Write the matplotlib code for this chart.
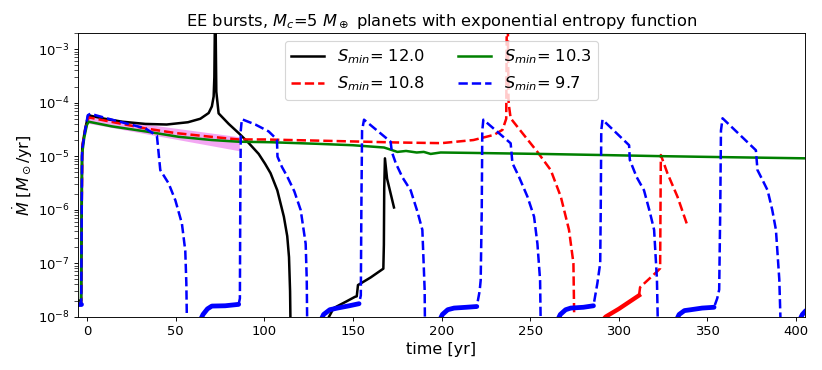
import numpy as np
import matplotlib
matplotlib.use("Agg")
import matplotlib.pyplot as plt

# ---- data (time in yr, Mdot in Msun/yr) ----
black1_t = [-5, -3.2, -2.9, -2.6, -1.0, 0.8, 10, 20, 33, 45, 57, 64, 68.7, 70.5, 71.5, 71.9, 72.2, 72.6, 73.0, 74.3,
            80, 85.6, 91, 96.9, 100.5, 103.6, 107.4, 111.1, 113.0, 114.0, 114.6, 114.9]
black1_m = [2.0e-8, 2.0e-8, 1e-6, 1.5e-5, 3.2e-5, 5.8e-5, 5.0e-5, 4.4e-5, 4.0e-5, 3.9e-5, 4.3e-5, 5.0e-5, 6.4e-5, 8.5e-5,
            1.3e-4, 3.0e-4, 3e-3, 3e-3, 1.6e-4, 6.3e-5,
            4.0e-5, 2.7e-5, 1.8e-5, 1.1e-5, 7.2e-6, 4.8e-6, 2.3e-6, 7.4e-7, 3.2e-7, 1.3e-7, 3e-8, 5e-9]

black2_t = [135, 139.2, 146, 151.2, 152.2, 152.9, 160, 167.2, 167.5, 167.7, 168.1, 169.3, 173.2]
black2_m = [8e-9, 1.45e-8, 1.9e-8, 2.35e-8, 2.4e-8, 3.9e-8, 5.4e-8, 7.9e-8, 2.2e-7, 2.5e-6, 9.1e-6, 3.8e-6, 1.1e-6]

red1_t = [-5, -3.2, -2.9, -2.6, -1.0, 1, 15, 33, 50, 70, 85.6, 100, 130, 160, 175, 200, 218, 229.6, 234.4, 236.5,
          236.8, 237.4, 237.8, 238.1, 239, 246, 254.1, 261.6, 267.3, 271.9, 274.4, 274.8]
red1_m = [1.8e-8, 1.8e-8, 1e-6, 1.5e-5, 3.0e-5, 5.3e-5, 4.3e-5, 3.3e-5, 2.7e-5, 2.3e-5, 2.05e-5, 2.05e-5, 1.95e-5, 1.85e-5,
          1.8e-5, 1.75e-5, 2.0e-5, 2.5e-5, 3.1e-5, 5.0e-5,
          3e-3, 3e-3, 1.1e-4, 8.5e-5, 5.1e-5, 2.6e-5, 1.2e-5, 5.5e-6, 1.74e-6, 4.2e-7, 1.0e-7, 1.15e-8]

red2_t = [311.4, 312.0, 321.8, 323.3, 323.5, 323.7, 327.4, 333.1, 338.3]
red2_m = [2.5e-8, 3.55e-8, 7.1e-8, 8e-8, 1e-6, 1.05e-5, 4.8e-6, 1.74e-6, 5.5e-7]
red2_low_t = [290.0, 292.6, 300, 306, 311.4]
red2_low_m = [8e-9, 1.0e-8, 1.4e-8, 1.9e-8, 2.5e-8]

green_t = [-5, -3.3, -3.0, -2.8, -1.5, 0, 1, 14.1, 33, 51.7, 70.5, 85.6, 103.6, 130, 150, 167.6, 172, 175.1, 180, 186,
           190, 193.9, 199.5, 216.4, 255.9, 290, 323.5, 357.5, 405.5]
green_m = [1.8e-8, 1.8e-8, 1e-6, 1.0e-5, 2.2e-5, 3.8e-5, 4.4e-5, 3.6e-5, 2.9e-5, 2.3e-5, 2.0e-5, 1.86e-5, 1.82e-5, 1.7e-5,
           1.6e-5, 1.45e-5, 1.3e-5, 1.2e-5, 1.25e-5, 1.17e-5, 1.2e-5, 1.1e-5, 1.17e-5, 1.15e-5, 1.1e-5, 1.05e-5,
           1.0e-5, 9.6e-6, 9.1e-6]

blue_t = [-5, -3.2, -2.9, -2.7, -1.0, 0.5, 1.9, 14.1, 33, 39.5, 40.3, 41.4, 46.1, 49.9, 53.6, 55.5, 56.1, 56.5,
          63.5, 65.5, 68, 70.5, 78, 85.6, 86.3, 86.5, 86.8, 87.4, 95, 102.5, 107.2,
          107.5, 110, 113.1, 117, 120.6, 123.4, 124.0, 124.3,
          131.5, 133.5, 137, 141.3, 148, 153.5, 154.5, 154.8, 155.2, 156.3, 171.3,
          172, 174.2, 178, 182.6, 186.5, 189.2, 190.5, 190.7,
          198.5, 200.5, 203.5, 207.1, 214, 219.9, 221.5, 222.1, 222.7, 223.0, 223.6, 239,
          240, 243.7, 248.5, 252.2, 254.1, 255.6, 256,
          265, 267, 270, 272.9, 280, 285.7, 287.9, 289.5, 289.8, 290.1, 290.8, 305.8,
          306.2, 310, 314.2, 317.5, 319.9, 321.5, 322.1,
          332, 334, 337, 340.6, 347, 353.7, 355.5, 356.6, 357.2, 357.6, 358.5, 377.3,
          378.2, 381, 383.9, 386.5, 388.6, 390.5, 391.4,
          401.5, 403.5, 405.5]
blue_m = [1.7e-8, 1.7e-8, 1e-6, 1.3e-5, 3.0e-5, 5.8e-5, 6.2e-5, 4.8e-5, 3.3e-5, 2.4e-5, 1.3e-5, 5.5e-6, 3.1e-6, 1.5e-6,
          5.5e-7, 1.7e-7, 4.2e-8, 5e-9,
          8e-9, 1.1e-8, 1.4e-8, 1.58e-8, 1.6e-8, 1.7e-8, 2.2e-8, 1e-6, 3e-5, 4.9e-5, 3.9e-5, 2.9e-5, 2.05e-5,
          9.8e-6, 6.3e-6, 4.1e-6, 2.2e-6, 9.8e-7, 2.3e-7, 5e-8, 5e-9,
          8e-9, 1.1e-8, 1.35e-8, 1.45e-8, 1.6e-8, 1.75e-8, 2.5e-8, 1e-6, 3e-5, 4.8e-5, 1.86e-5,
          1.2e-5, 7.4e-6, 4e-6, 2.3e-6, 9e-7, 4.2e-7, 3.2e-8, 5e-9,
          8e-9, 1.1e-8, 1.35e-8, 1.45e-8, 1.5e-8, 1.55e-8, 3e-8, 4.8e-8, 1e-6, 3e-5, 4.8e-5, 1.74e-5,
          7.4e-6, 4.1e-6, 1.74e-6, 7.4e-7, 2.3e-7, 4.8e-8, 5e-9,
          8e-9, 1.1e-8, 1.35e-8, 1.45e-8, 1.5e-8, 1.6e-8, 4.2e-8, 1e-7, 1e-6, 3e-5, 4.8e-5, 1.6e-5,
          8.5e-6, 4.1e-6, 2.3e-6, 9e-7, 4.2e-7, 5e-8, 5e-9,
          8e-9, 1.1e-8, 1.3e-8, 1.35e-8, 1.45e-8, 1.5e-8, 2.2e-8, 3.2e-8, 1e-6, 3e-5, 5.1e-5, 1.29e-5,
          5.5e-6, 3.6e-6, 2.3e-6, 1e-6, 4.2e-7, 5e-8, 5e-9,
          8e-9, 1.1e-8, 1.3e-8]

# thick (noisy) quiescent plateaus of the S_min=9.7 run
blue_plateau_t = [[-5, -3.1], [63.5, 65.5, 68, 70.5, 78, 85.6], [131.5, 133.5, 137, 141.3, 148, 153.5],
                  [198.5, 200.5, 203.5, 207.1, 214, 219.9], [265, 267, 270, 272.9, 280, 285.7],
                  [332, 334, 337, 340.6, 347, 353.7], [401.5, 403.5, 405.5]]
blue_plateau_m = [[1.7e-8, 1.7e-8], [8e-9, 1.1e-8, 1.4e-8, 1.58e-8, 1.6e-8, 1.7e-8],
                  [8e-9, 1.1e-8, 1.35e-8, 1.45e-8, 1.6e-8, 1.75e-8],
                  [8e-9, 1.1e-8, 1.35e-8, 1.45e-8, 1.5e-8, 1.55e-8],
                  [8e-9, 1.1e-8, 1.35e-8, 1.45e-8, 1.5e-8, 1.6e-8],
                  [8e-9, 1.1e-8, 1.3e-8, 1.35e-8, 1.45e-8, 1.5e-8], [8e-9, 1.1e-8, 1.3e-8]]

band_t = [1, 86]
band_top = [5.5e-5, 2.3e-5]
band_bot = [4.1e-5, 1.26e-5]

labels = [r"$S_{min}$= 12.0", r"$S_{min}$= 10.8", r"$S_{min}$= 10.3", r"$S_{min}$= 9.7"]

# ---- figure ----
DPI = 82.2
fig = plt.figure(figsize=(822 / DPI, 370 / DPI), dpi=DPI)
ax = fig.add_axes([78 / 822, 1 - 316.7 / 370, (805 - 78) / 822, (316.7 - 33) / 370])

lw = 2.2
ax.fill_between(band_t, band_bot, band_top, color="violet", alpha=0.7, lw=0)
ax.plot(black1_t, black1_m, color="black", lw=lw, label=labels[0])
ax.plot(black2_t, black2_m, color="black", lw=lw)
ax.plot(red1_t, red1_m, color="red", ls="--", lw=lw, label=labels[1])
ax.plot(red2_t, red2_m, color="red", ls="--", lw=lw)
ax.plot(red2_low_t, red2_low_m, color="red", ls="-", lw=3.8)
ax.plot(green_t, green_m, color="green", lw=lw, label=labels[2])
ax.plot(blue_t, blue_m, color="blue", ls="--", lw=lw, label=labels[3])
for pt, pm in zip(blue_plateau_t, blue_plateau_m):
    ax.plot(pt, pm, color="blue", ls="-", lw=4.2, solid_capstyle="round")

ax.set_yscale("log")
ax.set_xlim(-5, 405)
ax.set_ylim(1e-8, 2e-3)
ax.tick_params(labelsize=11.5)
ax.tick_params(axis="y", which="minor", length=3.5)
ax.set_xlabel("time [yr]", fontsize=14)
ax.set_ylabel(r"$\dot M$ [$M_\odot$/yr]", fontsize=14)
ax.set_title(r"EE bursts, $M_c$=5 $M_\oplus$ planets with exponential entropy function", fontsize=14.3)
ax.legend(loc="upper center", ncol=2, fontsize=14.3)

fig.savefig("out.png", dpi=DPI)
